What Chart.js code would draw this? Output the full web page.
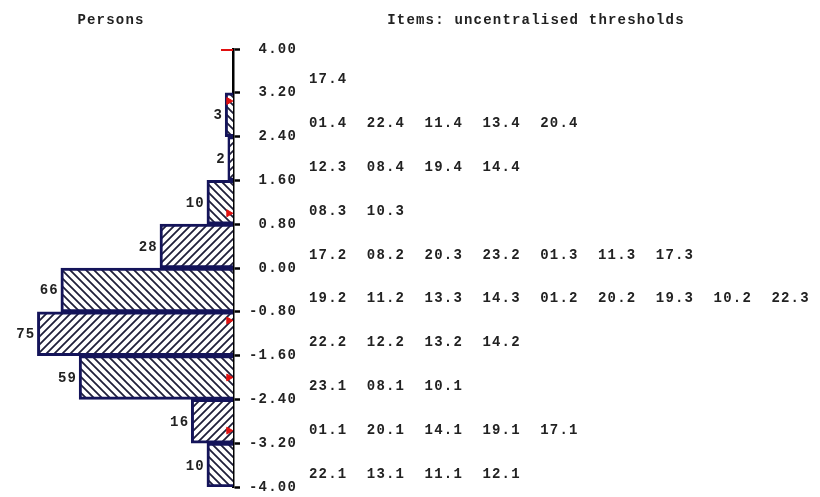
<!DOCTYPE html>
<html>
<head>
<meta charset="utf-8">
<script src="https://cdn.jsdelivr.net/npm/chart.js@4"></script>
<style>
  html, body { margin: 0; padding: 0; background: #fff; }
  #wrap { width: 820px; height: 497px; }
</style>
</head>
<body>
<div id="wrap"><canvas id="mapChart"></canvas></div>
<script>
/* ================= DATA ================= */

// bin centres (logits), bins are 0.80 wide
const binCentres = [3.6, 2.8, 2.0, 1.2, 0.4, -0.4, -1.2, -2.0, -2.8, -3.6];

// number of persons in each bin
const personCounts = [0, 3, 2, 10, 28, 66, 75, 59, 16, 10];

// item thresholds located in each bin
const itemRows = [
    ['17.4'],
    ['01.4', '22.4', '11.4', '13.4', '20.4'],
    ['12.3', '08.4', '19.4', '14.4'],
    ['08.3', '10.3'],
    ['17.2', '08.2', '20.3', '23.2', '01.3', '11.3', '17.3'],
    ['19.2', '11.2', '13.3', '14.3', '01.2', '20.2', '19.3', '10.2', '22.3'],
    ['22.2', '12.2', '13.2', '14.2'],
    ['23.1', '08.1', '10.1'],
    ['01.1', '20.1', '14.1', '19.1', '17.1'],
    ['22.1', '13.1', '11.1', '12.1']
];

// red markers along the axis
const markerY = [4.0, 3.05, 1.0, -0.96, -2.0, -2.97];
const markerX = [2.3, 1.6, 1.6, 1.6, 1.6, 1.6];

const tickMin = -4;
const tickMax = 4;
const tickStep = 0.8;

/* ================= STYLE ================= */

const FONT = 'bold 14px "Liberation Mono", "DejaVu Sans Mono", monospace';
const SPACING = '1.2px';
const TEXT = '#222';
const NAVY = '#14145a';

function makeHatch(forward) {
    const c = document.createElement('canvas');
    c.width = 8;
    c.height = 8;
    const g = c.getContext('2d');
    g.fillStyle = '#fff';
    g.fillRect(0, 0, 8, 8);
    g.strokeStyle = '#1f1f3a';
    g.lineWidth = 1.8;
    g.beginPath();
    if (forward) {
        g.moveTo(-2, 10); g.lineTo(10, -2);
        g.moveTo(-2, 2); g.lineTo(2, -2);
        g.moveTo(6, 10); g.lineTo(10, 6);
    } else {
        g.moveTo(-2, -2); g.lineTo(10, 10);
        g.moveTo(-2, 6); g.lineTo(2, 10);
        g.moveTo(6, -2); g.lineTo(10, 2);
    }
    g.stroke();
    return g.createPattern(c, 'repeat');
}

const hatchFwd = makeHatch(true);
const hatchBack = makeHatch(false);

/* ================= TEXT PLUGIN ================= */

const mapText = {
    id: 'mapText',
    beforeDraw(chart) {
        // courier-like wide spacing for every label
        chart.ctx.letterSpacing = SPACING;
    },
    afterDraw(chart) {
        const ctx = chart.ctx;
        const y = chart.scales.y;
        const area = chart.chartArea;
        ctx.save();
        ctx.letterSpacing = SPACING;
        ctx.font = FONT;
        ctx.fillStyle = TEXT;
        ctx.textBaseline = 'middle';

        // titles
        ctx.textAlign = 'center';
        ctx.fillText('Persons', 111, 20);
        ctx.fillText('Items: uncentralised thresholds', 536, 20);

        // person counts, left of each bar
        ctx.textAlign = 'right';
        const bars = chart.getDatasetMeta(0).data;
        bars.forEach((bar, i) => {
            if (!personCounts[i]) return;
            ctx.fillText(String(personCounts[i]), bar.x - 2, bar.y + 1);
        });

        // item thresholds
        ctx.textAlign = 'left';
        itemRows.forEach((row, i) => {
            const py = y.getPixelForValue(binCentres[i]) + 9;
            row.forEach((label, j) => {
                ctx.fillText(label, area.right + 76 + j * 57.8, py);
            });
        });
        ctx.restore();
    }
};

/* ================= CHART ================= */

new Chart(document.getElementById('mapChart'), {

    data: {
        datasets: [{
            type: 'bar',
            indexAxis: 'y',
            order: 2,
            data: binCentres.map((c, i) => ({ x: personCounts[i], y: c })),
            backgroundColor: binCentres.map((c, i) => (i % 2 === 0 ? hatchFwd : hatchBack)),
            borderColor: NAVY,
            borderWidth: 3,
            barPercentage: 1,
            categoryPercentage: 1
        }, {
            type: 'scatter',
            order: 1,
            data: markerY.map((v, i) => ({ x: markerX[i], y: v })),
            pointStyle: markerY.map((v, i) => (i === 0 ? 'line' : 'triangle')),
            rotation: markerY.map((v, i) => (i === 0 ? 0 : 90)),
            radius: markerY.map((v, i) => (i === 0 ? 6 : 4)),
            backgroundColor: '#e01010',
            borderColor: '#e01010',
            borderWidth: markerY.map((v, i) => (i === 0 ? 4 : 1))
        }]
    },

    options: {
        responsive: true,
        maintainAspectRatio: false,
        animation: false,
        layout: {
            padding: { left: 0, right: 523, top: 49, bottom: -6 }
        },
        plugins: {
            legend: { display: false },
            tooltip: { enabled: false }
        },
        scales: {
            x: {
                type: 'linear',
                display: false,
                reverse: true,
                min: 0,
                max: 85.5
            },
            y: {
                type: 'linear',
                position: 'right',
                offset: false,
                min: tickMin,
                max: tickMax,
                afterFit(scale) {
                    scale.width = 64;
                    scale.paddingTop = 0;
                    scale.paddingBottom = 0;
                },
                border: { color: '#000', width: 2.5 },
                grid: {
                    offset: false,
                    drawOnChartArea: false,
                    tickLength: 7,
                    tickColor: '#000',
                    tickWidth: 2.5
                },
                ticks: {
                    stepSize: tickStep,
                    crossAlign: 'far',
                    padding: 1,
                    color: TEXT,
                    font: { family: '"Liberation Mono", monospace', size: 14, weight: 'bold' },
                    callback: v => Number(v).toFixed(2)
                }
            }
        }
    },

    plugins: [mapText]
});
</script>
</body>
</html>
